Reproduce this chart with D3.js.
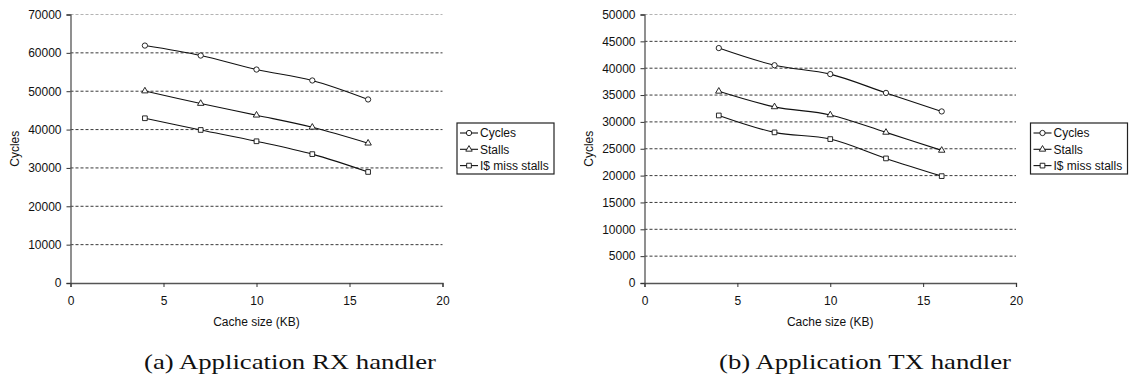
<!DOCTYPE html>
<html>
<head>
<meta charset="utf-8">
<script src="https://cdn.jsdelivr.net/npm/d3@7"></script>
<style>
  body { margin:0; background:#fff; }
  svg text { font-family: "Liberation Sans", Arial, sans-serif; }
  svg text.caption { font-family: "Liberation Serif", "DejaVu Serif", serif; }
</style>
</head>
<body>
<svg id="svg1" width="1130" height="377"></svg>
<script>
// cache sizes (KB)
var cacheSizes = [4, 7, 10, 13, 16];
var seriesNames = ["Cycles", "Stalls", "I$ miss stalls"];
var seriesShapes = ["circle", "triangle", "square"];

// (a) RX handler
var rxCycles = [61900, 59300, 55650, 52800, 47850];
var rxStalls = [50050, 46800, 43750, 40600, 36450];
var rxIMiss  = [42950, 39900, 36950, 33600, 28950];
var rxYTicks = [0, 10000, 20000, 30000, 40000, 50000, 60000, 70000];

// (b) TX handler
var txCycles = [43750, 40550, 38900, 35400, 31950];
var txStalls = [35700, 32800, 31300, 28050, 24700];
var txIMiss  = [31200, 28050, 26800, 23200, 19900];
var txYTicks = [0, 5000, 10000, 15000, 20000, 25000, 30000, 35000, 40000, 45000, 50000];

var xTicks = [0, 5, 10, 15, 20];

var svg = d3.select("#svg1");

function drawPanel(opt){
  var g = svg.append("g");
  var x = d3.scaleLinear().domain([0, 20]).range([opt.left, opt.right]);
  var y = d3.scaleLinear().domain([0, opt.yMax]).range([opt.bottom, opt.top]);

  // gridlines
  g.selectAll(".grid")
    .data(opt.yTicks.filter(function(d){ return d > 0; }))
    .enter().append("line")
      .attr("x1", x(0)).attr("x2", x(20))
      .attr("y1", function(d){ return y(d); })
      .attr("y2", function(d){ return y(d); })
      .attr("stroke", function(d){ return d == opt.yMax ? "#aaa" : "#222"; })
      .attr("stroke-width", 0.9)
      .attr("stroke-dasharray", "3,2");

  var yAxis = g.append("g")
    .attr("transform", "translate(" + x(0) + ",0)")
    .call(d3.axisLeft(y).tickValues(opt.yTicks).tickSize(4).tickPadding(5).tickFormat(d3.format("d")));
  var xAxis = g.append("g")
    .attr("transform", "translate(0," + y(0) + ")")
    .call(d3.axisBottom(x).tickValues(xTicks).tickSize(4).tickPadding(9));

  [yAxis, xAxis].forEach(function(a){
    a.select(".domain").attr("stroke", "#555").attr("stroke-width", 1.3);
    a.selectAll(".tick line").attr("stroke", "#333");
    a.selectAll("text").attr("font-size", 12).attr("fill", "#111")
      .attr("font-family", null);
  });

  // axis titles
  g.append("text")
    .attr("transform", "translate(" + opt.yLabelX + "," + ((y(0) + y(opt.yMax)) / 2) + ") rotate(-90)")
    .attr("text-anchor", "middle").attr("dy", "0.35em")
    .attr("font-size", 12).attr("fill", "#111")
    .text("Cycles");
  g.append("text")
    .attr("x", x(10)).attr("y", y(0) + 39)
    .attr("text-anchor", "middle").attr("dy", "0.35em")
    .attr("font-size", 12).attr("fill", "#111")
    .text("Cache size (KB)");

  var line = d3.line()
    .x(function(d, i){ return x(cacheSizes[i]); })
    .y(function(d){ return y(d); })
    .curve(d3.curveCatmullRom.alpha(0));

  opt.series.forEach(function(vals, k){
    g.append("path")
      .attr("d", line(vals))
      .attr("fill", "none").attr("stroke", "#111").attr("stroke-width", 1.1);
    g.selectAll(".m" + k)
      .data(vals)
      .enter().append("path")
        .attr("transform", function(d, i){ return "translate(" + x(cacheSizes[i]) + "," + y(d) + ")"; })
        .attr("d", marker(seriesShapes[k]))
        .attr("fill", "#fff").attr("stroke", "#111").attr("stroke-width", 0.9);
  });

  // legend
  var lg = g.append("g").attr("transform", "translate(" + opt.legendX + "," + opt.legendY + ")");
  lg.append("rect")
    .attr("width", 97).attr("height", 51)
    .attr("fill", "#fff").attr("stroke", "#222").attr("stroke-width", 1.2);
  seriesNames.forEach(function(name, k){
    var ry = 10 + k * 16.3;
    lg.append("line").attr("x1", 3).attr("x2", 21).attr("y1", ry).attr("y2", ry)
      .attr("stroke", "#111").attr("stroke-width", 1.1);
    lg.append("path").attr("transform", "translate(12," + ry + ")")
      .attr("d", marker(seriesShapes[k]))
      .attr("fill", "#fff").attr("stroke", "#111").attr("stroke-width", 0.9);
    lg.append("text").attr("x", 23).attr("y", ry).attr("dy", "0.35em")
      .attr("font-size", 12).attr("fill", "#111").text(name);
  });

  // caption
  svg.append("text")
    .attr("class", "caption")
    .attr("x", opt.capX).attr("y", 369)
    .attr("text-anchor", "middle")
    .attr("font-size", 22).attr("fill", "#111")
    .attr("textLength", 292).attr("lengthAdjust", "spacingAndGlyphs")
    .text(opt.caption);
}

function marker(shape){
  if (shape == "circle") return d3.symbol().type(d3.symbolCircle).size(22)();
  if (shape == "triangle") return d3.symbol().type(d3.symbolTriangle).size(18)();
  return d3.symbol().type(d3.symbolSquare).size(22)();
}

drawPanel({
  left: 70.5, right: 442.5, top: 14.5, bottom: 283,
  yMax: 70000, yTicks: rxYTicks,
  series: [rxCycles, rxStalls, rxIMiss],
  yLabelX: 15, legendX: 457, legendY: 123,
  capX: 290, caption: "(a) Application RX handler"
});

drawPanel({
  left: 644.5, right: 1016, top: 14.5, bottom: 283,
  yMax: 50000, yTicks: txYTicks,
  series: [txCycles, txStalls, txIMiss],
  yLabelX: 589, legendX: 1030.5, legendY: 123,
  capX: 865, caption: "(b) Application TX handler"
});
</script>
</body>
</html>
